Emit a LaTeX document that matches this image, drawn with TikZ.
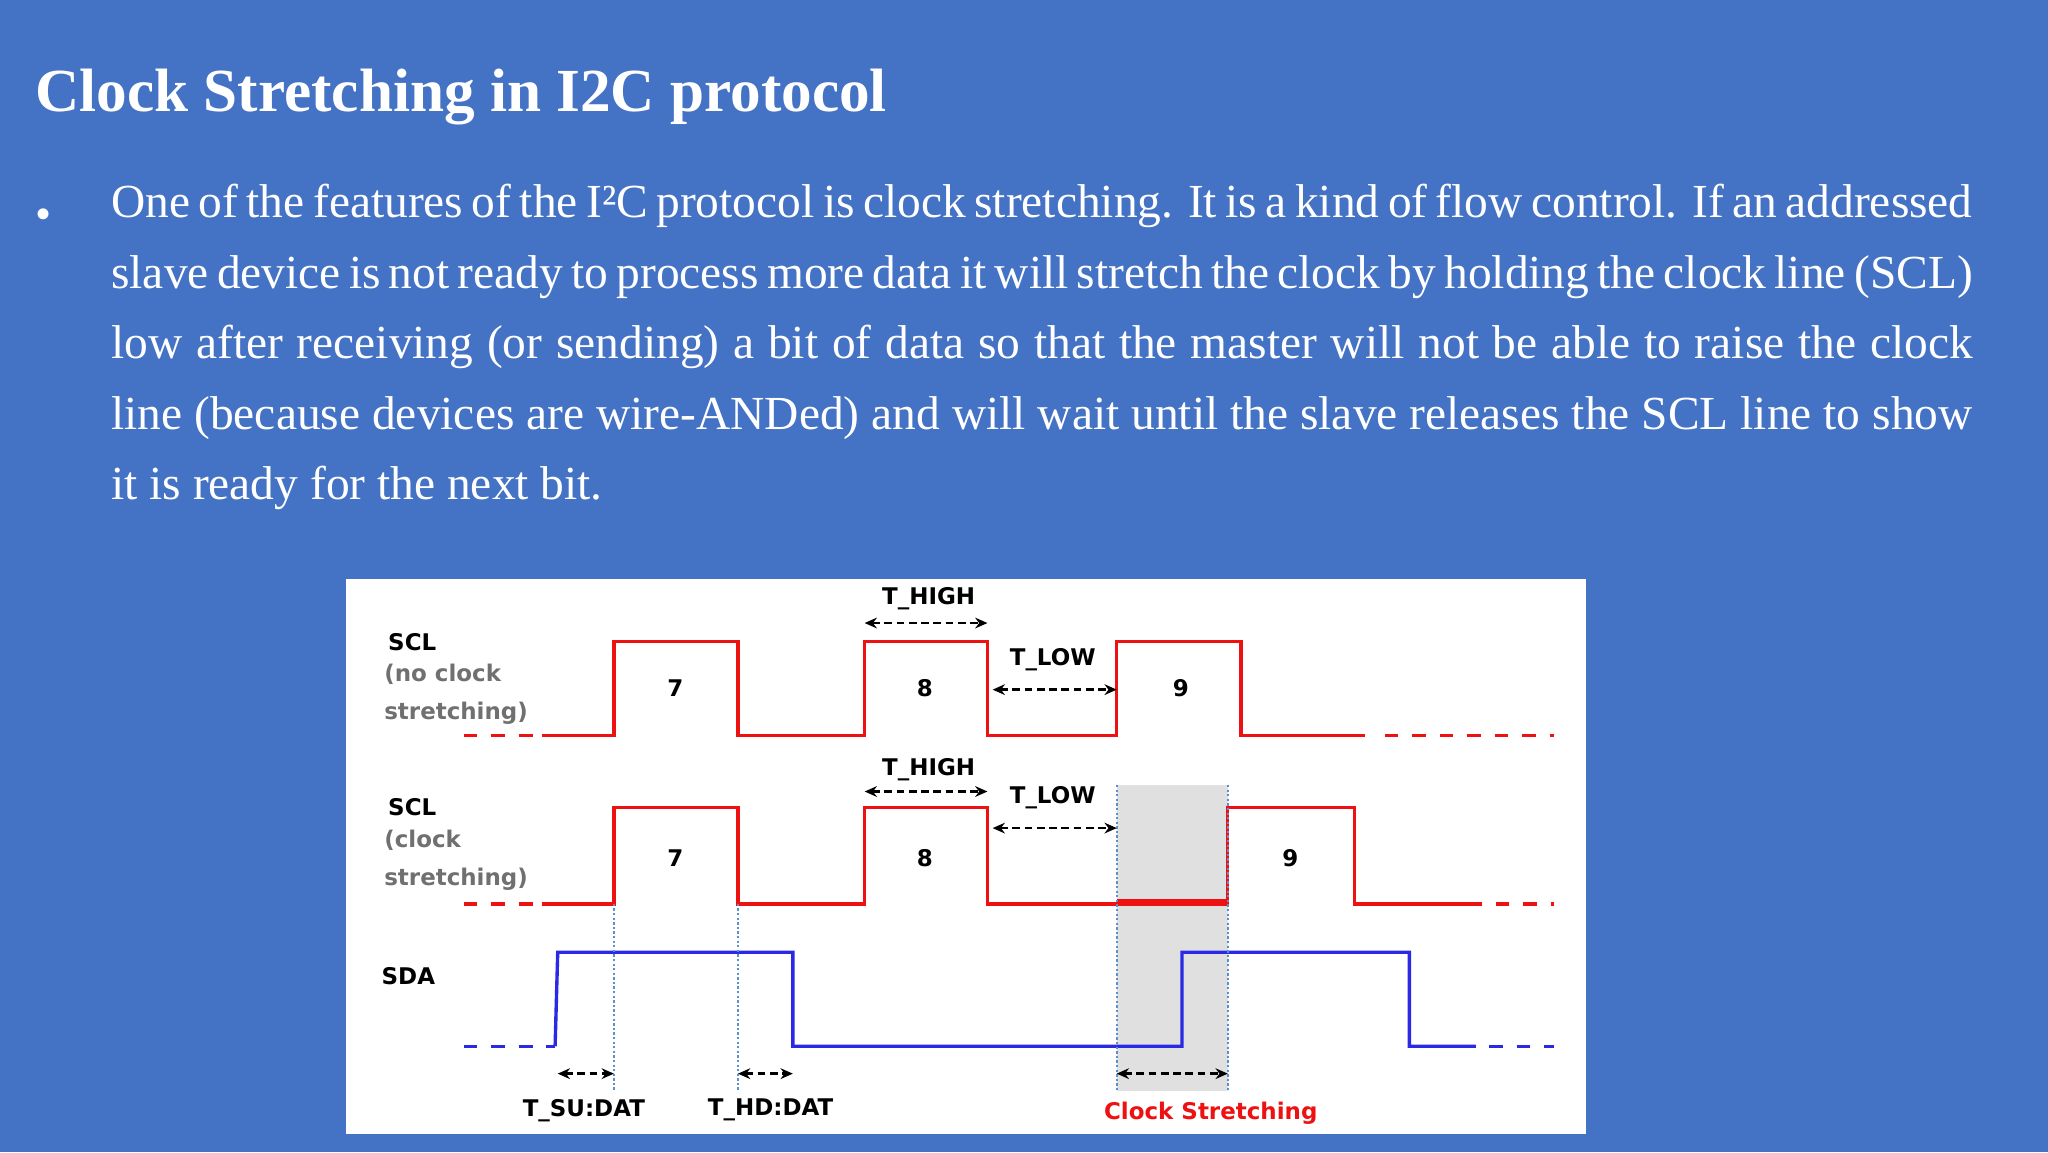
\documentclass[tikz,border=0pt]{standalone}
\usepackage{fontspec}
\setmainfont{Liberation Serif}
\newfontfamily\dsans{DejaVu Sans}
\usetikzlibrary{arrows.meta}
\definecolor{bg}{HTML}{4472C4}
\definecolor{sclred}{HTML}{EE1111}
\definecolor{sdablue}{HTML}{2A2AE6}
\definecolor{dotblue}{HTML}{5B8FD0}
\definecolor{lblgray}{HTML}{707070}
\begin{document}
\begin{tikzpicture}[x=0.03cm,y=-0.03cm,
  lbl/.style={font=\dsans\bfseries\fontsize{15}{15}\selectfont, inner sep=0pt},
  sub/.style={lbl, text=lblgray, anchor=west},
  num/.style={lbl},
  sig/.style={line width=2.2pt},
  dsh/.style={line width=2.2pt, dash pattern=on 9pt off 9pt},
  meas/.style={line width=1.6pt, dash pattern=on 5pt off 3pt, {Stealth[length=8pt,width=7pt]}-{Stealth[length=8pt,width=7pt]}},
  vdot/.style={dotblue, line width=1.6pt, dash pattern=on 1.5pt off 1.5pt}]
\fill[bg] (0,0) rectangle (1568,882);
\useasboundingbox (0,0) rectangle (1568,882);
\node[anchor=base west, text=white, font=\bfseries\fontsize{40}{40}\selectfont, inner sep=0pt] (title) at (27,85) {Clock Stretching in I2C protocol};
\node[anchor=base, text=white, font=\fontsize{30}{30}\selectfont, inner sep=0pt] (bul) at (33,176) {•};
\node[anchor=north west, text=white, text width=1425*0.03cm, align=justify, inner sep=0pt,
  font=\fontsize{31}{46}\selectfont] (body) at (85,141) {One of the features of the I²C protocol is clock stretching. It is a kind of flow control. If an addressed slave device is not ready to process more data it will stretch the clock by holding the clock line (SCL) low after receiving (or sending) a bit of data so that the master will not be able to raise the clock line (because devices are wire-ANDed) and will wait until the slave releases the SCL line to show it is ready for the next bit.};
% diagram panel
\fill[white] (265,443) rectangle (1214,868);
\fill[black!12] (855,601) rectangle (940,835);
% SCL 1
\draw[sclred,dsh] (355,563) -- (415,563);
\draw[sclred,sig] (415,563) -- (470,563) -- (470,491) -- (565,491) -- (565,563) -- (662,563) -- (662,491) -- (756,491) -- (756,563) -- (855,563) -- (855,491) -- (950,491) -- (950,563) -- (1045,563);
\draw[sclred,dsh] (1060,563) -- (1190,563);
% SCL 2
\draw[sclred,dsh] (355,692) -- (415,692);
\draw[sclred,sig] (415,692) -- (470,692) -- (470,618) -- (565,618) -- (565,692) -- (662,692) -- (662,618) -- (756,618) -- (756,692) -- (855,692);
\draw[sclred,line width=4pt] (855,691) -- (940,691);
\draw[sclred,sig] (940,692) -- (940,618) -- (1037,618) -- (1037,692) -- (1135,692);
\draw[sclred,dsh] (1145,692) -- (1190,692);
% SDA
\draw[sdablue,dsh] (355,801) -- (425,801);
\draw[sdablue,sig] (425,801) -- (427,729) -- (607,729) -- (607,801) -- (905,801) -- (905,729) -- (1079,729) -- (1079,801) -- (1130,801);
\draw[sdablue,dsh] (1140,801) -- (1190,801);
% dotted verticals
\draw[vdot] (470,692) -- (470,835);
\draw[vdot] (565,692) -- (565,835);
\draw[vdot] (855,601) -- (855,835);
\draw[vdot] (940,601) -- (940,835);
% labels
\node[lbl, anchor=west] (scl1) at (297,492) {SCL};
\node[sub] (n1) at (294,516) {(no clock};
\node[sub] (s1) at (294,546) {stretching)};
\node[lbl, anchor=west] (scl2) at (297,618) {SCL};
\node[sub] (n2) at (294,643) {(clock};
\node[sub] (s2) at (294,673) {stretching)};
\node[lbl, anchor=west] (sda) at (292,747) {SDA};
\node[num] (a7) at (517,527) {7};
\node[num] (a8) at (708,527) {8};
\node[num] (a9) at (904,527) {9};
\node[num] (b7) at (517,657) {7};
\node[num] (b8) at (708,657) {8};
\node[num] (b9) at (988,657) {9};
\node[lbl] (th1) at (711,458) {T\_HIGH};
\node[lbl] (tl1) at (806,505) {T\_LOW};
\node[lbl] (th2) at (711,589) {T\_HIGH};
\node[lbl] (tl2) at (806,611) {T\_LOW};
\node[lbl] (tsu) at (447,850) {T\_SU:DAT};
\node[lbl] (thd) at (590,850) {T\_HD:DAT};
\node[lbl, text=sclred] (cs) at (927,852) {Clock Stretching};
% measurement arrows
\coordinate (h1a) at (662,477); \coordinate (h1b) at (756,477);
\coordinate (l1a) at (760,528); \coordinate (l1b) at (855,528);
\coordinate (h2a) at (662,606); \coordinate (h2b) at (756,606);
\coordinate (l2a) at (760,634); \coordinate (l2b) at (855,634);
\coordinate (sua) at (427,822); \coordinate (sub) at (470,822);
\coordinate (hda) at (565,822); \coordinate (hdb) at (607,822);
\coordinate (csa) at (855,822); \coordinate (csb) at (940,822);
\foreach \a/\b in {h1a/h1b,l1a/l1b,h2a/h2b,l2a/l2b,sua/sub,hda/hdb,csa/csb}
  \draw[meas] (\a) -- (\b);
\end{tikzpicture}
\end{document}
